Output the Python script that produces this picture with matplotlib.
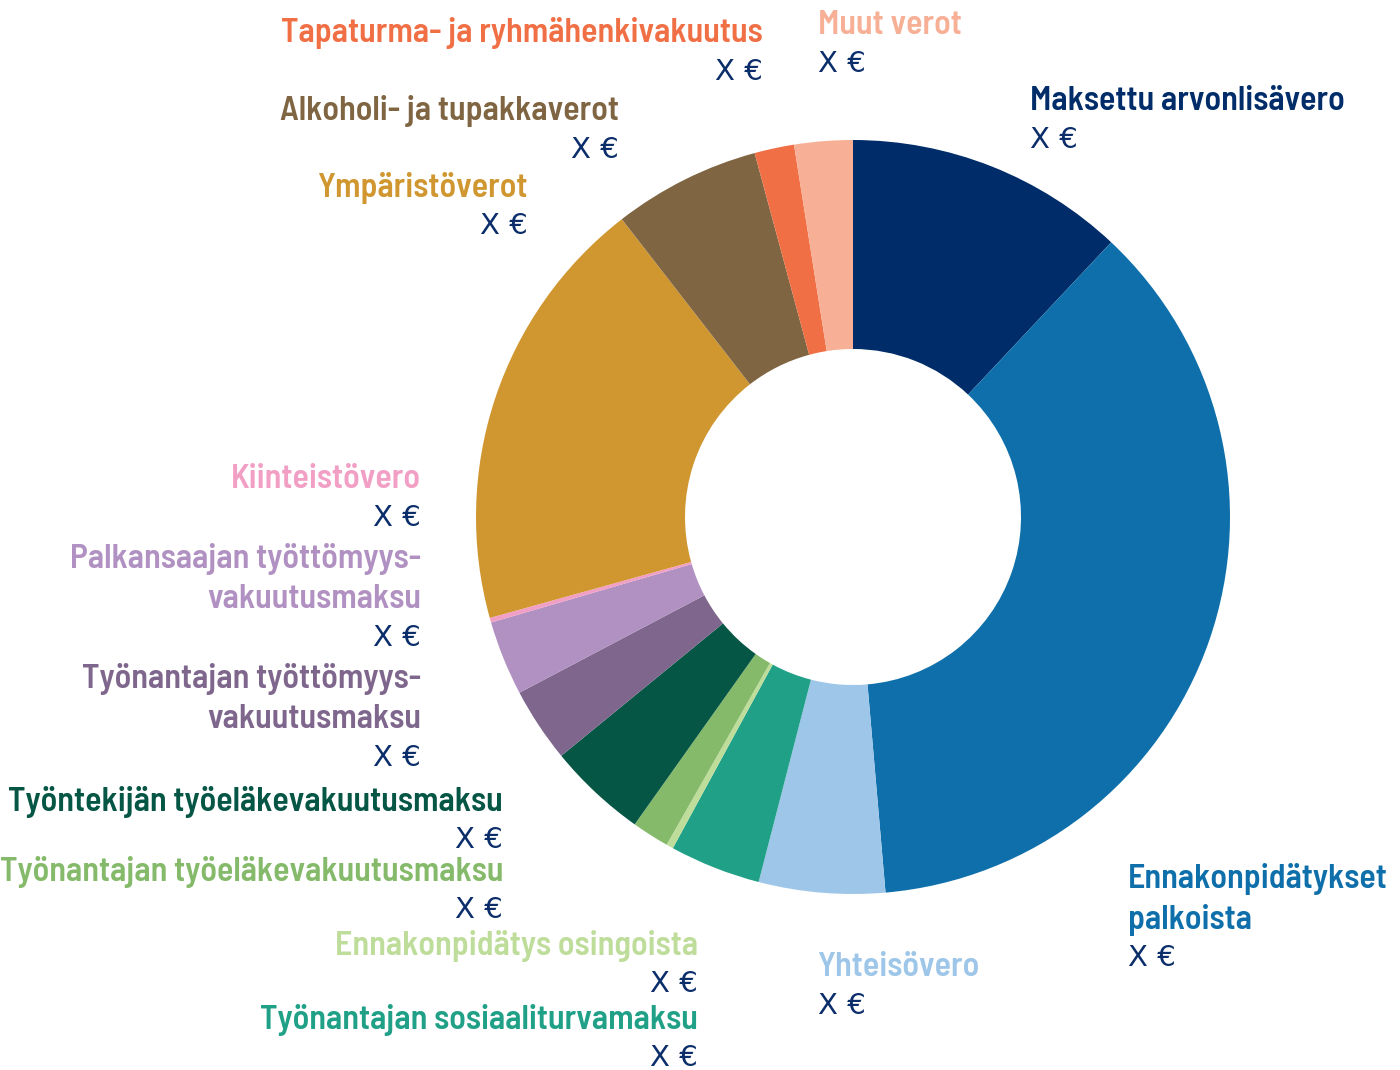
import matplotlib.pyplot as plt
from matplotlib import font_manager

# Data: shares of the taxes paid (percent), clockwise from 12 o'clock
categories = [
    "Maksettu arvonlisävero",
    "Ennakonpidätykset palkoista",
    "Yhteisövero",
    "Työnantajan sosiaaliturvamaksu",
    "Ennakonpidätys osingoista",
    "Työnantajan työeläkevakuutusmaksu",
    "Työntekijän työeläkevakuutusmaksu",
    "Työnantajan työttömyysvakuutusmaksu",
    "Palkansaajan työttömyysvakuutusmaksu",
    "Kiinteistövero",
    "Ympäristöverot",
    "Alkoholi- ja tupakkaverot",
    "Tapaturma- ja ryhmähenkivakuutus",
    "Muut verot",
]
shares = [12.0, 36.6, 5.4, 3.9, 0.3, 1.6, 4.25, 3.2, 3.2, 0.2, 18.8, 6.3, 1.7, 2.5]
value_text = ["X €"] * len(categories)
colors = ["#002D69", "#0E6FAA", "#9DC6E8", "#20A187", "#BEDD9A", "#85BA6A",
          "#055645", "#7E668D", "#B091C2", "#F29FC5", "#D09731", "#7F6542",
          "#F06F45", "#F7AF96"]
value_color = "#0B2E6B"

# label layout: lines of the name, x anchor, alignment, y of first line (pixels from top)
label_lines = [
    ["Maksettu arvonlisävero"],
    ["Ennakonpidätykset", "palkoista"],
    ["Yhteisövero"],
    ["Työnantajan sosiaaliturvamaksu"],
    ["Ennakonpidätys osingoista"],
    ["Työnantajan työeläkevakuutusmaksu"],
    ["Työntekijän työeläkevakuutusmaksu"],
    ["Työnantajan työttömyys-", "vakuutusmaksu"],
    ["Palkansaajan työttömyys-", "vakuutusmaksu"],
    ["Kiinteistövero"],
    ["Ympäristöverot"],
    ["Alkoholi- ja tupakkaverot"],
    ["Tapaturma- ja ryhmähenkivakuutus"],
    ["Muut verot"],
]
label_x = [1030, 1128, 818, 698, 698, 503, 503, 421, 421, 421, 528, 619, 763, 818]
label_ha = ["left", "left", "left", "right", "right", "right", "right", "right",
            "right", "right", "right", "right", "right", "left"]
label_y = [98, 876, 965, 1017, 943, 869, 799, 676, 556, 476, 185, 108, 30, 22]

names = set(f.name for f in font_manager.fontManager.ttflist)
family = "DejaVu Sans"
for cand in ["Barlow Semi Condensed", "Barlow Condensed", "Asap Condensed", "Archivo Narrow"]:
    if cand in names:
        family = cand
        break
plt.rcParams['font.family'] = [family, 'DejaVu Sans']

W, H = 1400, 1070
fig = plt.figure(figsize=(W / 100, H / 100), dpi=100)
ax = fig.add_axes([0, 0, 1, 1])

cx, cy = 853, 517
r_out, r_in = 377, 168
ax.pie(shares, colors=colors, startangle=90, counterclock=False,
       center=(cx, H - cy), radius=r_out, frame=True,
       wedgeprops=dict(width=r_out - r_in, linewidth=0))
ax.set_xlim(0, W)
ax.set_ylim(0, H)
ax.set_aspect('equal')
ax.axis('off')

fs = 24.5
step = 40.5
for i, lines in enumerate(label_lines):
    y = label_y[i] + 3
    for ln in lines:
        ax.text(label_x[i], H - y, ln, ha=label_ha[i], va='center',
                fontsize=fs, fontweight=600, color=colors[i])
        y += step
    ax.text(label_x[i], H - y + 2, value_text[i], ha=label_ha[i], va='center',
            fontsize=21, fontweight='normal', color=value_color,
            family='DejaVu Sans')

fig.savefig("out.png", dpi=100)
